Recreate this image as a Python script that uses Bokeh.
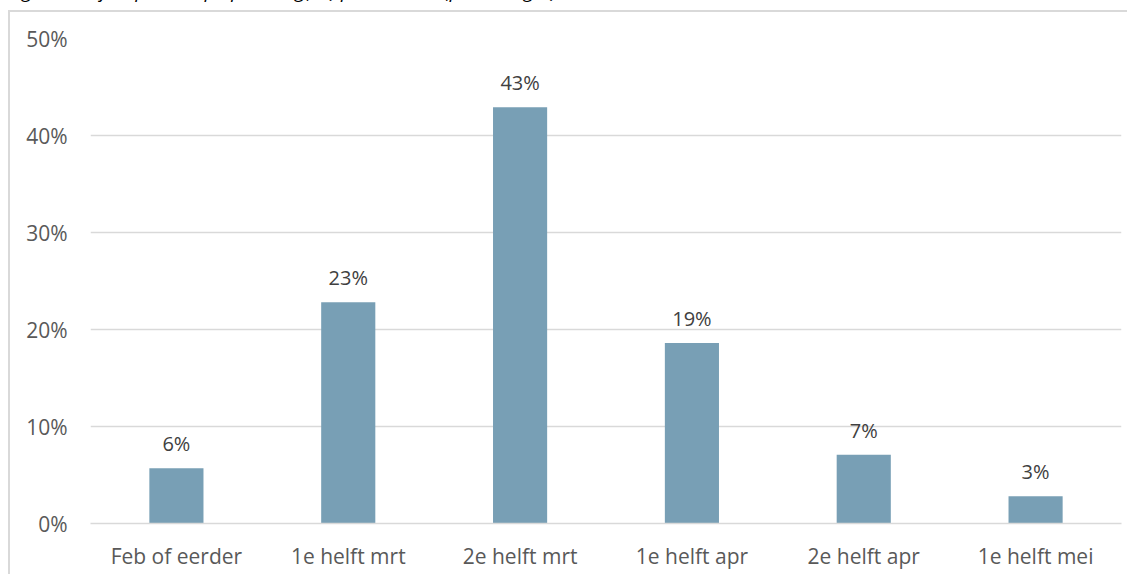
from bokeh.plotting import figure
from bokeh.models import ColumnDataSource, Range1d, FactorRange, FixedTicker, Div, LabelSet
from bokeh.core.properties import value
from bokeh.layouts import column
from bokeh.embed import file_html
from bokeh.resources import INLINE

categories = ["Feb of eerder", "1e helft mrt", "2e helft mrt", "1e helft apr", "2e helft apr", "1e helft mei"]
values = [0.057, 0.228, 0.429, 0.186, 0.071, 0.028]
value_labels = ["6%", "23%", "43%", "19%", "7%", "3%"]
y_ticks = [0.0, 0.1, 0.2, 0.3, 0.4, 0.5]
y_tick_labels = ["0%", "10%", "20%", "30%", "40%", "50%"]
title_text = "Figuur 4: Tijdstip waarop opneming(en) plaats vindt (percentages)"

FONT = "Open Sans"

src = ColumnDataSource(dict(cat=categories, val=values, lab=value_labels))

p = figure(width=1119, height=564, x_range=FactorRange(*categories, range_padding=0),
           y_range=Range1d(0, 0.5), output_backend="svg", toolbar_location=None,
           min_border_left=80, min_border_right=8, min_border_top=26, min_border_bottom=53)
p.outline_line_color = None
p.background_fill_color = "white"
p.border_fill_color = "white"

p.vbar(x="cat", top="val", width=0.315, source=src, fill_color="#789fb5", line_color=None)

labels = LabelSet(x="cat", y="val", text="lab", source=src, text_align="center",
                  text_baseline="bottom", y_offset=11, text_font=value(FONT),
                  text_font_size="20px", text_color="#404040")
p.add_layout(labels)

p.yaxis.ticker = FixedTicker(ticks=y_ticks)
p.yaxis.major_label_overrides = {t: l for t, l in zip(y_ticks, y_tick_labels)}
p.yaxis.axis_line_color = None
p.yaxis.major_tick_line_color = None
p.yaxis.minor_tick_line_color = None
p.yaxis.major_label_text_font = FONT
p.yaxis.major_label_text_font_size = "21px"
p.yaxis.major_label_text_color = "#595959"
p.yaxis.major_label_standoff = 17

p.xaxis.axis_line_color = "#d9d9d9"
p.xaxis.axis_line_width = 1.5
p.xaxis.major_tick_line_color = None
p.xaxis.minor_tick_line_color = None
p.xaxis.major_label_text_font = FONT
p.xaxis.major_label_text_font_size = "21px"
p.xaxis.major_label_text_color = "#595959"
p.xaxis.major_label_standoff = 12

p.xgrid.grid_line_color = None
p.ygrid.grid_line_color = "#d9d9d9"
p.ygrid.grid_line_width = 1.5

p.styles = {"border-left": "2px solid #d9d9d9", "border-top": "2px solid #d9d9d9",
            "margin-left": "8px", "margin-top": "0px"}

title = Div(text=title_text, width=1119, height=27,
            styles={"font-style": "italic", "font-family": "Open Sans", "font-size": "19px",
                    "color": "#000000", "margin-top": "-22px", "margin-left": "8px",
                    "white-space": "nowrap"})

layout = column(title, p, spacing=0)

open("out.html", "w").write(file_html(layout, INLINE))
